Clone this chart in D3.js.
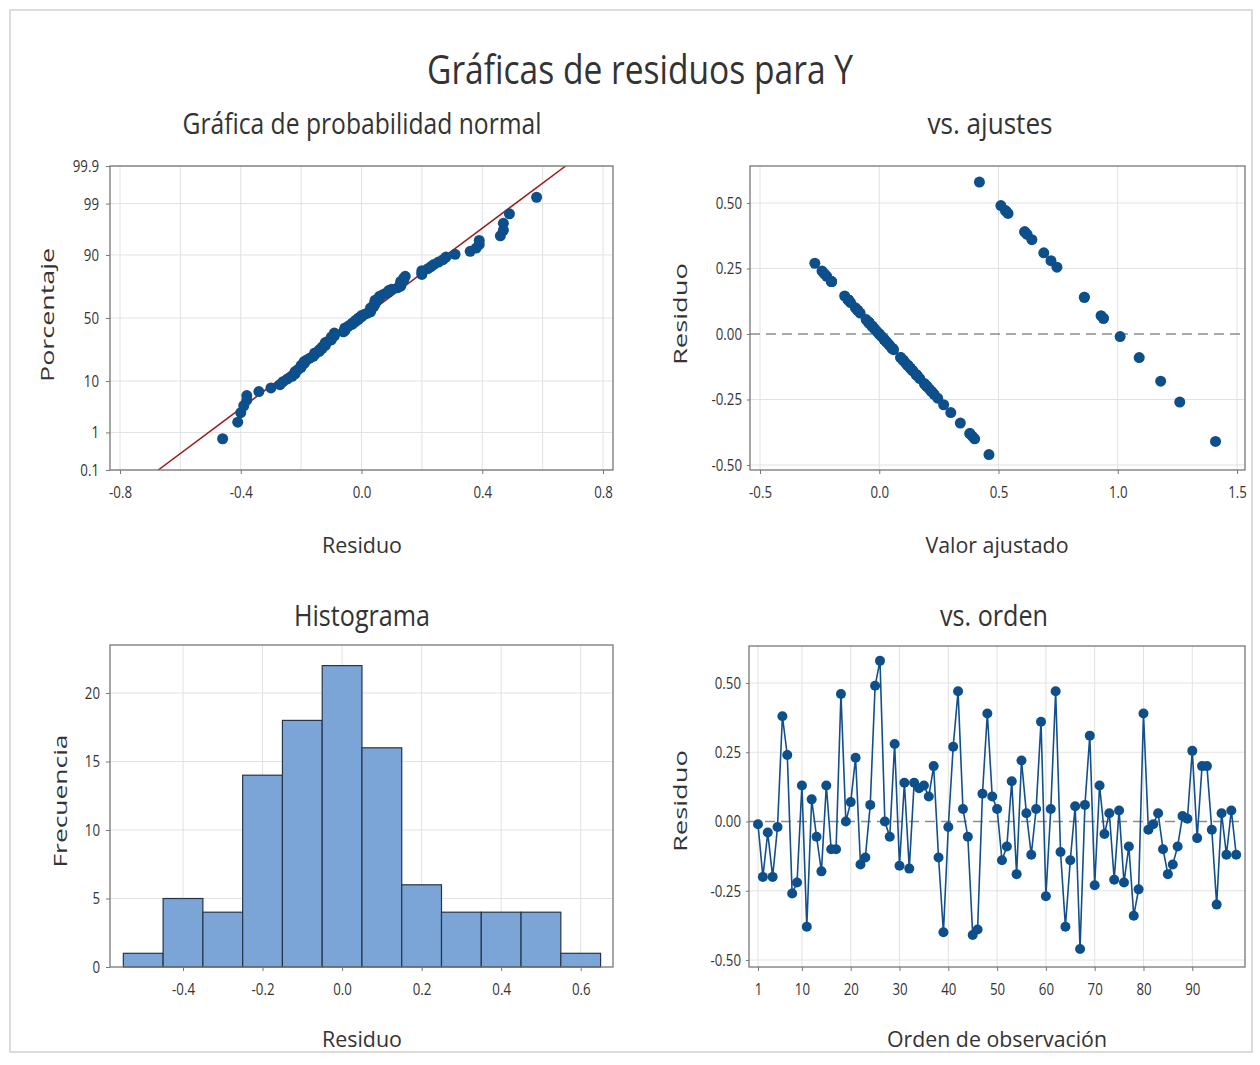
<!DOCTYPE html>
<html>
<head>
<meta charset="utf-8">
<script src="https://cdn.jsdelivr.net/npm/d3@7"></script>
<style>
  body { margin: 0; background: #fff; }
  text { font-family: "Open Sans", "Noto Sans", sans-serif; fill: #333; }
</style>
</head>
<body>
<svg id="chart" width="1260" height="1065"></svg>
<script>
// residuos en orden de observación (1..99)
const residuos = [
  -0.01, -0.20, -0.04, -0.20, -0.02, 0.38, 0.24, -0.26, -0.22, 0.13,
  -0.38, 0.08, -0.055, -0.18, 0.13, -0.10, -0.10, 0.46, 0.00, 0.07,
  0.23, -0.155, -0.13, 0.06, 0.49, 0.58, 0.00, -0.055, 0.28, -0.16,
  0.14, -0.17, 0.14, 0.12, 0.13, 0.09, 0.20, -0.13, -0.40, -0.02,
  0.27, 0.47, 0.045, -0.055, -0.41, -0.39, 0.10, 0.39, 0.09, 0.045,
  -0.14, -0.09, 0.145, -0.19, 0.22, 0.03, -0.12, 0.045, 0.36, -0.27,
  0.045, 0.47, -0.11, -0.38, -0.14, 0.055, -0.46, 0.06, 0.31, -0.23,
  0.13, -0.045, 0.03, -0.21, 0.04, -0.22, -0.09, -0.34, -0.245, 0.39,
  -0.03, -0.01, 0.03, -0.10, -0.19, -0.155, -0.09, 0.02, 0.01, 0.255,
  -0.06, 0.20, 0.20, -0.03, -0.30, 0.03, -0.12, 0.04, -0.12
]
// observaciones con Y = 1 (el resto Y = 0); ajuste = Y - residuo
const obsConY1 = [6, 8, 14, 18, 20, 24, 25, 26, 29, 31, 33, 42, 45, 48, 52, 59, 62, 68, 69, 80, 82, 90]

// histograma
const binInicio = [-0.55, -0.45, -0.35, -0.25, -0.15, -0.05, 0.05, 0.15, 0.25, 0.35, 0.45, 0.55]
const frecuencias = [1, 5, 4, 14, 18, 22, 16, 6, 4, 4, 4, 1]
const anchoBin = 0.1

// ticks
const ticksProb = [0.1, 1, 10, 50, 90, 99, 99.9]
const ticksResNormal = [-0.8, -0.4, 0, 0.4, 0.8]
const gridResNormal = [-0.8, -0.6, -0.4, -0.2, 0, 0.2, 0.4, 0.6, 0.8]
const ticksAjuste = [-0.5, 0, 0.5, 1, 1.5]
const ticksResiduo = [-0.5, -0.25, 0, 0.25, 0.5]
const ticksHistX = [-0.4, -0.2, 0, 0.2, 0.4, 0.6]
const ticksFrec = [0, 5, 10, 15, 20]
const ticksOrden = [1, 10, 20, 30, 40, 50, 60, 70, 80, 90]

const AZUL = '#0d4f8b'
const GRID = '#e2e2e2'
const SX = 0.78

// formato con guion simple como en el original
const fmt = spec => { const f = d3.format(spec); return d => f(d).replace('−', '-') }

// inversa normal (Acklam)
function qnorm(p) {
  const a = [-3.969683028665376e+01, 2.209460984245205e+02, -2.759285104469687e+02, 1.383577518672690e+02, -3.066479806614716e+01, 2.506628277459239e+00]
  const b = [-5.447609879822406e+01, 1.615858368580409e+02, -1.556989798598866e+02, 6.680131188771972e+01, -1.328068155288572e+01]
  const c = [-7.784894002430293e-03, -3.223964580411365e-01, -2.400758277161838e+00, -2.549671464164744e+00, 4.374664141464968e+00, 2.938163982698783e+00]
  const d = [7.784695709041462e-03, 3.224671290700398e-01, 2.445134137142996e+00, 3.754408661907416e+00]
  const plow = 0.02425
  let q, r
  if (p < plow) {
    q = Math.sqrt(-2 * Math.log(p))
    return (((((c[0]*q+c[1])*q+c[2])*q+c[3])*q+c[4])*q+c[5]) / ((((d[0]*q+d[1])*q+d[2])*q+d[3])*q+1)
  }
  if (p > 1 - plow) {
    q = Math.sqrt(-2 * Math.log(1 - p))
    return -(((((c[0]*q+c[1])*q+c[2])*q+c[3])*q+c[4])*q+c[5]) / ((((d[0]*q+d[1])*q+d[2])*q+d[3])*q+1)
  }
  q = p - 0.5; r = q * q
  return (((((a[0]*r+a[1])*r+a[2])*r+a[3])*r+a[4])*r+a[5])*q / (((((b[0]*r+b[1])*r+b[2])*r+b[3])*r+b[4])*r+1)
}

const svg = d3.select('#chart')
svg.append('rect').attr('x', 10).attr('y', 10).attr('width', 1242).attr('height', 1042)
  .attr('fill', '#fff').attr('stroke', '#dcdcdc').attr('stroke-width', 2)

function label(txt, x, y, size, len, rot) {
  const t = svg.append('text').text(txt)
    .attr('text-anchor', 'middle')
    .attr('font-size', size)
    .attr('textLength', len)
    .attr('lengthAdjust', 'spacingAndGlyphs')
  if (rot) t.attr('transform', `translate(${x},${y}) rotate(-90)`)
  else t.attr('x', x).attr('y', y)
  return t
}

function squeeze(g) {
  g.selectAll('text')
    .attr('font-size', 17)
    .attr('x', function () { return (+this.getAttribute('x') || 0) / SX })
    .attr('transform', `scale(${SX},1)`)
}

function panel(f) {
  const g = svg.append('g')
  g.append('rect').attr('x', f.x0).attr('y', f.y0).attr('width', f.x1 - f.x0).attr('height', f.y1 - f.y0)
    .attr('fill', '#fff')
  return g
}

function frame(f) {
  svg.append('rect').attr('x', f.x0).attr('y', f.y0).attr('width', f.x1 - f.x0).attr('height', f.y1 - f.y0)
    .attr('fill', 'none').attr('stroke', '#777').attr('stroke-width', 1.3)
}

function grid(g, f, xs, xv, ys, yv) {
  g.selectAll(null).data(xv).enter().append('line')
    .attr('x1', d => xs(d)).attr('x2', d => xs(d)).attr('y1', f.y0).attr('y2', f.y1)
    .attr('stroke', GRID)
  g.selectAll(null).data(yv).enter().append('line')
    .attr('y1', d => ys(d)).attr('y2', d => ys(d)).attr('x1', f.x0).attr('x2', f.x1)
    .attr('stroke', GRID)
}

function axes(f, xAxis, yAxis) {
  const gx = svg.append('g').attr('transform', `translate(0,${f.y1})`).call(xAxis)
  const gy = svg.append('g').attr('transform', `translate(${f.x0},0)`).call(yAxis)
  ;[gx, gy].forEach(g => {
    g.select('.domain').remove()
    g.selectAll('line').attr('stroke', '#777')
    g.selectAll('text').attr('fill', '#333')
    squeeze(g)
  })
}

// título
label('Gráficas de residuos para Y', 640, 84, 40, 426)

// ---------- Gráfica de probabilidad normal ----------
{
  const f = { x0: 110, x1: 613, y0: 166, y1: 470 }
  const x = d3.scaleLinear().domain([-0.8, 0.8]).range([120, 603])
  const zmin = qnorm(0.001), zmax = qnorm(0.999)
  const y = d3.scaleLinear().domain([zmin, zmax]).range([f.y1, f.y0])
  const g = panel(f)
  grid(g, f, x, gridResNormal, y, ticksProb.map(p => qnorm(p / 100)))

  const mu = d3.mean(residuos), sd = d3.deviation(residuos)
  svg.append('clipPath').attr('id', 'clipN').append('rect')
    .attr('x', f.x0).attr('y', f.y0).attr('width', f.x1 - f.x0).attr('height', f.y1 - f.y0)
  svg.append('line').attr('clip-path', 'url(#clipN)')
    .attr('x1', x(mu + sd * zmin)).attr('y1', y(zmin))
    .attr('x2', x(mu + sd * zmax)).attr('y2', y(zmax))
    .attr('stroke', '#9b1c1c').attr('stroke-width', 1.5)

  const n = residuos.length
  const orden = residuos.slice().sort(d3.ascending)
  svg.selectAll(null).data(orden).enter().append('circle')
    .attr('cx', d => x(d))
    .attr('cy', (d, i) => y(qnorm((i + 1 - 0.3) / (n + 0.4))))
    .attr('r', 5.5).attr('fill', AZUL)

  frame(f)
  axes(f,
    d3.axisBottom(x).tickValues(ticksResNormal).tickFormat(fmt('.1f')).tickSize(4).tickPadding(12),
    d3.axisLeft(y).tickValues(ticksProb.map(p => qnorm(p / 100))).tickFormat((d, i) => ticksProb[i]).tickSize(4).tickPadding(7))

  label('Gráfica de probabilidad normal', 362, 134, 30, 359)
  label('Residuo', 362, 553, 22, 80)
  label('Porcentaje', 54, 315, 19, 134, true)
}

// ---------- vs. ajustes ----------
{
  const f = { x0: 750, x1: 1245, y0: 166, y1: 470 }
  const x = d3.scaleLinear().domain([-0.5, 1.5]).range([760, 1237])
  const y = d3.scaleLinear().domain([-0.5, 0.5]).range([465, 203])
  const g = panel(f)
  grid(g, f, x, ticksAjuste, y, ticksResiduo.filter(d => d !== 0))
  svg.append('line').attr('x1', f.x0).attr('x2', f.x1).attr('y1', y(0)).attr('y2', y(0))
    .attr('stroke', '#8c8c8c').attr('stroke-width', 1.5).attr('stroke-dasharray', '10,6')

  const datos = residuos.map((r, i) => ({ r, ajuste: (obsConY1.includes(i + 1) ? 1 : 0) - r }))
  svg.selectAll(null).data(datos).enter().append('circle')
    .attr('cx', d => x(d.ajuste)).attr('cy', d => y(d.r))
    .attr('r', 5.5).attr('fill', AZUL)

  frame(f)
  axes(f,
    d3.axisBottom(x).tickValues(ticksAjuste).tickFormat(fmt('.1f')).tickSize(4).tickPadding(12),
    d3.axisLeft(y).tickValues(ticksResiduo).tickFormat(fmt('.2f')).tickSize(3).tickPadding(5))

  label('vs. ajustes', 990, 134, 30, 125)
  label('Valor ajustado', 997, 553, 22, 143)
  label('Residuo', 687, 314, 19, 102, true)
}

// ---------- Histograma ----------
{
  const f = { x0: 110, x1: 613, y0: 645, y1: 967 }
  const x = d3.scaleLinear().domain([-0.4, 0.6]).range([183, 580.7])
  const y = d3.scaleLinear().domain([0, 20]).range([967, 693])
  const g = panel(f)
  grid(g, f, x, ticksHistX, y, ticksFrec.slice(1))

  svg.selectAll(null).data(binInicio).enter().append('rect')
    .attr('x', d => x(d)).attr('width', d => x(d + anchoBin) - x(d))
    .attr('y', (d, i) => y(frecuencias[i])).attr('height', (d, i) => y(0) - y(frecuencias[i]))
    .attr('fill', '#7ba4d7').attr('stroke', '#26364a').attr('stroke-width', 1.2)

  frame(f)
  axes(f,
    d3.axisBottom(x).tickValues(ticksHistX).tickFormat(fmt('.1f')).tickSize(4).tickPadding(12),
    d3.axisLeft(y).tickValues(ticksFrec).tickSize(4).tickPadding(6))

  label('Histograma', 362, 626, 30, 136)
  label('Residuo', 362, 1047, 22, 80)
  label('Frecuencia', 67, 801, 19, 133, true)
}

// ---------- vs. orden ----------
{
  const f = { x0: 749, x1: 1245, y0: 646, y1: 967 }
  const x = d3.scaleLinear().domain([1, 99]).range([758, 1236.2])
  const y = d3.scaleLinear().domain([-0.5, 0.5]).range([960, 683])
  const g = panel(f)
  grid(g, f, x, ticksOrden, y, ticksResiduo.filter(d => d !== 0))
  svg.append('line').attr('x1', f.x0).attr('x2', f.x1).attr('y1', y(0)).attr('y2', y(0))
    .attr('stroke', '#8c8c8c').attr('stroke-width', 1.5).attr('stroke-dasharray', '10,6')

  const linea = d3.line().x((d, i) => x(i + 1)).y(d => y(d))
  svg.append('path').attr('d', linea(residuos))
    .attr('fill', 'none').attr('stroke', '#124f8c').attr('stroke-width', 1.6)
  svg.selectAll(null).data(residuos).enter().append('circle')
    .attr('cx', (d, i) => x(i + 1)).attr('cy', d => y(d))
    .attr('r', 5).attr('fill', AZUL)

  frame(f)
  axes(f,
    d3.axisBottom(x).tickValues(ticksOrden).tickSize(4).tickPadding(12),
    d3.axisLeft(y).tickValues(ticksResiduo).tickFormat(fmt('.2f')).tickSize(3).tickPadding(5))

  label('vs. orden', 994, 626, 30, 108)
  label('Orden de observación', 997, 1047, 22, 220)
  label('Residuo', 687, 801, 19, 102, true)
}
</script>
</body>
</html>
